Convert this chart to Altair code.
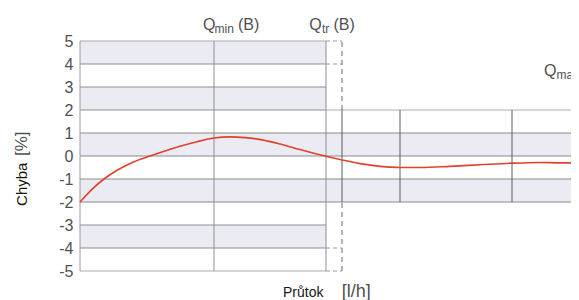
import altair as alt
import pandas as pd

# ---- data ----
curve_x = [0, 1.2, 2.4, 3.8, 5.4, 7.0, 8.5, 10.0, 11.7, 13.4, 15.0, 16.5, 18.2, 20.0, 22.0,
           24.5, 26.2, 28.0, 30.0, 32.0, 34.0, 37.0, 40.0, 43.2, 46.0, 48.0, 49.1]
curve_y = [-2.0, -1.45, -1.0, -0.6, -0.25, 0.0, 0.22, 0.42, 0.62, 0.78, 0.83, 0.8, 0.7, 0.52, 0.28,
           0.0, -0.17, -0.33, -0.45, -0.5, -0.5, -0.45, -0.38, -0.31, -0.28, -0.3, -0.3]

y_ticks = [-5, -4, -3, -2, -1, 0, 1, 2, 3, 4, 5]

x_min, x_max = 0, 49.1
q_min_x = 13.4          # Qmin (B)
left_end_x = 24.6       # end of wide tolerance region
q_tr_x = 26.2           # Qtr (B)
right_verticals = [32.0, 43.2]

# shaded bands (lower, upper)
bands_wide_lo = [4, 2, -4]
bands_wide_hi = [5, 3, -3]
bands_narrow_lo = [0, -2]
bands_narrow_hi = [1, -1]

# horizontal lines
h_inner_left = [4, 3, -3, -4]
h_border = [5, -5]
h_full = [1, 0, -1, -2]
h_top_right = [2]
h_stubs = [5, 4, -4, -5]

# labels
q_text = ["Q", "Q", "Q"]
q_x = [12.3, 22.93, 46.4]
q_y = [5.478, 5.478, 3.478]
b_text = ["(B)", "(B)"]
b_x = [15.8, 25.35]
b_y = [5.478, 5.478]
sub_text = ["min", "tr", "max"]
sub_x = [13.45, 24.2, 47.65]
sub_y = [5.33, 5.33, 3.33]

xs = alt.Scale(domain=[x_min, x_max], nice=False, zero=False)
ys = alt.Scale(domain=[-5, 5], nice=False, zero=False)
SANS = "Liberation Sans, Arial, sans-serif"
GREY_TXT = "#505050"

X = alt.X("x:Q", scale=xs, axis=None)
Y = alt.Y("y:Q", scale=ys, axis=alt.Axis(values=y_ticks, ticks=False, domain=False, grid=False,
                                         labelFont=SANS, labelFontSize=16, labelColor=GREY_TXT,
                                         labelExpr="'' + datum.value",
                                         labelPadding=7, title=None))

band_df = pd.DataFrame({
    "x": [x_min] * len(bands_wide_lo) + [x_min] * len(bands_narrow_lo),
    "x2": [left_end_x] * len(bands_wide_lo) + [x_max] * len(bands_narrow_lo),
    "y": bands_wide_lo + bands_narrow_lo,
    "y2": bands_wide_hi + bands_narrow_hi,
})
bands = alt.Chart(band_df).mark_rect(color="#ebebf3").encode(x=X, x2="x2", y=Y, y2="y2")

def hrules(vals, x0, x1, **kw):
    df = pd.DataFrame({"y": vals, "x": x0, "x2": x1})
    return alt.Chart(df).mark_rule(**kw).encode(x=X, x2="x2", y=Y)

hl = hrules(h_inner_left, x_min, left_end_x, color="#8f8f8f", strokeWidth=1)
hb = hrules(h_border, x_min, left_end_x, color="#ababab", strokeWidth=1)
hf = hrules(h_full, x_min, x_max, color="#8a8a8a", strokeWidth=1)
h2l = hrules(h_top_right, x_min, left_end_x, color="#8f8f8f", strokeWidth=1)
h2r = hrules(h_top_right, left_end_x, x_max, color="#b0b0b0", strokeWidth=1.2)
hs = hrules(h_stubs, left_end_x, q_tr_x, color="#9a9a9a", strokeWidth=1, strokeDash=[4, 3])

vfull_df = pd.DataFrame({"x": [q_min_x, left_end_x], "y": -5, "y2": 5})
vfull = alt.Chart(vfull_df).mark_rule(color="#8f8f8f", strokeWidth=1).encode(x=X, y=Y, y2="y2")
vr_df = pd.DataFrame({"x": [q_tr_x] + right_verticals, "y": -2, "y2": 2})
vr = alt.Chart(vr_df).mark_rule(color="#5c5c5c", strokeWidth=1).encode(x=X, y=Y, y2="y2")
vd_df = pd.DataFrame({"x": [q_tr_x, q_tr_x], "y": [2, -5], "y2": [5, -2]})
vd = alt.Chart(vd_df).mark_rule(color="#6a6a6a", strokeWidth=1, strokeDash=[5, 4]).encode(x=X, y=Y, y2="y2")

axis_df = pd.DataFrame({"x": [x_min], "y": [-5], "y2": [5]})
yaxis = alt.Chart(axis_df).mark_rule(color="#9a9a9a", strokeWidth=1).encode(x=X, y=Y, y2="y2")

curve_df = pd.DataFrame({"x": curve_x, "y": curve_y})
curve = alt.Chart(curve_df).mark_line(color="#e2402a", strokeWidth=1.6, interpolate="monotone").encode(x=X, y=Y)

def texts(t, x, y, **kw):
    df = pd.DataFrame({"t": t, "x": x, "y": y})
    return alt.Chart(df).mark_text(baseline="alphabetic", **kw).encode(x=X, y=Y, text="t")

q_lbl = texts(q_text, q_x, q_y, align="left", font=SANS, fontSize=16, color=GREY_TXT)
b_lbl = texts(b_text, b_x, b_y, align="left", font=SANS, fontSize=16, color=GREY_TXT)
sub_lbl = texts(sub_text, sub_x, sub_y, align="left", font=SANS, fontSize=12, color=GREY_TXT)

xt = texts(["Průtok"], [20.3], [-6.13], align="left", font=SANS, fontSize=14, color="#151515")
xu = texts(["[l/h]"], [26.17], [-6.13], align="left", font=SANS, fontSize=18, color=GREY_TXT)
yt = texts(["Chyba"], [-5.3], [-2.17], align="left", font=SANS, fontSize=15, angle=270, color="#151515")
yu = texts(["[%]"], [-5.3], [0.0], align="left", font=SANS, fontSize=17, angle=270, color=GREY_TXT)

chart = alt.layer(bands, hl, hb, hf, h2l, h2r, hs, vfull, vr, vd, yaxis, curve,
                  q_lbl, b_lbl, sub_lbl, xt, xu, yt, yu).properties(
    width=491, height=230,
    autosize=alt.AutoSizeParams(type="none"),
    padding={"left": 72, "top": 33, "right": 0, "bottom": 29},
).configure_view(stroke=None)

chart.save("out.html", embed_options={"renderer": "svg", "actions": False})
